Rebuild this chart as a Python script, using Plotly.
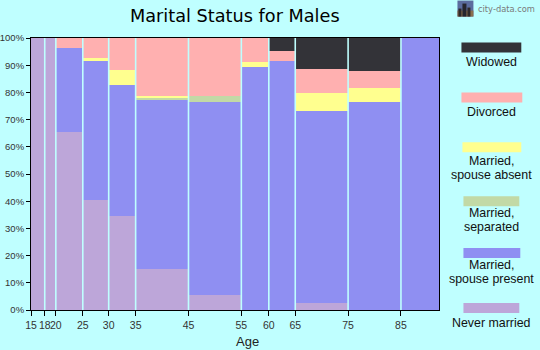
import plotly.graph_objects as go

BG = "#BFFFFF"
title = "Marital Status for Males"
tick_labels = ["15", "18", "20", "25", "30", "35", "45", "55", "60", "65", "75", "85"]
# bin edges
edges = [15, 17.6, 19.7, 24.8, 29.7, 34.8, 44.8, 54.8, 60, 65, 75, 85, 92.2]
never_married   = [100, 100, 65.6, 40.5, 34.7, 15.0, 5.5, 0, 0, 2.7, 0, 0]
spouse_present  = [0, 0, 30.9, 51.2, 48.2, 62.4, 71.1, 89.5, 91.7, 70.6, 76.3, 100]
separated       = [0, 0, 0, 0, 0, 0.6, 2.2, 0, 0, 0, 0, 0]
spouse_absent   = [0, 0, 0, 1.1, 5.5, 0.5, 0, 1.8, 0, 6.3, 5.5, 0]
divorced        = [0, 0, 3.5, 7.2, 11.6, 21.5, 21.2, 8.7, 3.7, 9.1, 6.2, 0]
widowed         = [0, 0, 0, 0, 0, 0, 0, 0, 4.6, 11.3, 12.0, 0]

series = [
    ("Never married", never_married, "#BDA6D9"),
    ("Married, spouse present", spouse_present, "#8F8FF2"),
    ("Married, separated", separated, "#C2D9A6"),
    ("Married, spouse absent", spouse_absent, "#FFFF8F"),
    ("Divorced", divorced, "#FFB0B0"),
    ("Widowed", widowed, "#333338"),
]
legend_items = [
    (["Widowed"], "#333338", 42, 52, 462, 522, [62]),
    (["Divorced"], "#FFB0B0", 92, 102, 462, 523, [112]),
    (["Married,", "spouse absent"], "#FFFF8F", 142, 152, 463, 522, [160.5, 174.9]),
    (["Married,", "separated"], "#C2D9A6", 196, 206, 464, 520, [212.5, 226.9]),
    (["Married,", "spouse present"], "#8F8FF2", 248, 258, 464, 521, [265, 279.4]),
    (["Never married"], "#BDA6D9", 303, 313, 464, 520, [323]),
]

W, H = 540, 350
L, R, T, B = 30.5, 439.5, 37.5, 310
starts = edges[:-1]
widths = [b - a for a, b in zip(edges[:-1], edges[1:])]

def px(x): return (x - L) / (R - L)
def py(y): return (B - y) / (B - T)

fig = go.Figure()
for name, vals, col in series:
    fig.add_bar(x=starts, y=vals, width=widths, offset=0, name=name,
                marker=dict(color=col, line=dict(width=0)))

shapes = []
for e in edges[1:-1]:
    shapes.append(dict(type="line", xref="x", yref="y domain", x0=e, x1=e, y0=0, y1=1,
                       line=dict(color=BG, width=1.6), layer="above"))
annots = [dict(text=title, xref="paper", yref="paper", x=px(234.5), y=py(15),
               xanchor="center", yanchor="middle", showarrow=False,
               font=dict(family="DejaVu Sans", size=17.7, color="#000000"))]
for lines, col, y0, y1, x0, x1, ys in legend_items:
    shapes.append(dict(type="rect", xref="paper", yref="paper", x0=px(x0), x1=px(x1),
                       y0=py(y1), y1=py(y0), fillcolor=col, line=dict(width=0)))
    for t, y in zip(lines, ys):
        annots.append(dict(text=t, xref="paper", yref="paper", x=px(492), y=py(y),
                           xanchor="center", yanchor="middle", showarrow=False,
                           font=dict(family="Liberation Sans", size=12.4, color="#111111")))
annots.append(dict(text="Age", xref="paper", yref="paper", x=px(248), y=py(342),
                   xanchor="center", yanchor="middle", showarrow=False,
                   font=dict(family="Liberation Sans", size=13, color="#222222")))
annots.append(dict(text="city-data.com", xref="paper", yref="paper", x=px(476.5), y=py(8),
                   xanchor="left", yanchor="middle", showarrow=False,
                   font=dict(family="DejaVu Sans", size=8.3, color="#7A7A7A")))
# city-data logo: sky and skyline blocks
for (x0, x1, y0, y1, c) in [
    (458, 474, 0, 16, "#5B6C9E"),
    (458, 474, 10, 16, "#8A6F4E"),
    (459, 462, 8, 16, "#2E2A2A"),
    (463, 467, 3, 16, "#26262E"),
    (468, 471, 7, 16, "#2E2A2A"),
]:
    shapes.append(dict(type="rect", xref="paper", yref="paper", x0=px(x0), x1=px(x1),
                       y0=py(y1), y1=py(y0), fillcolor=c, line=dict(width=0)))

fig.update_layout(
    width=W, height=H, barmode="stack", showlegend=False,
    paper_bgcolor=BG, plot_bgcolor=BG,
    margin=dict(l=L, r=W - R, t=T, b=H - B, autoexpand=False),
    shapes=shapes, annotations=annots,
    xaxis=dict(range=[edges[0], edges[-1]], tickmode="array", tickvals=edges[:-1], ticktext=tick_labels,
               tickangle=0, ticks="outside", ticklen=5, tickcolor="#000", tickwidth=1, showgrid=False,
               zeroline=False, showline=True, linecolor="#000", linewidth=1, mirror=True,
               tickfont=dict(family="Liberation Sans", size=10.5, color="#333")),
    yaxis=dict(range=[0, 100], tickmode="array", tickvals=list(range(0, 101, 10)),
               ticktext=[f"{v}%" for v in range(0, 101, 10)],
               ticks="outside", ticklen=4, tickcolor="#000", tickwidth=1, showgrid=False,
               zeroline=False, showline=True, linecolor="#000", linewidth=1, mirror=True,
               tickfont=dict(family="Liberation Sans", size=9.5, color="#333")),
)
fig.write_html("out.html", config={"displayModeBar": False}, post_script="document.body.style.margin='0';")
